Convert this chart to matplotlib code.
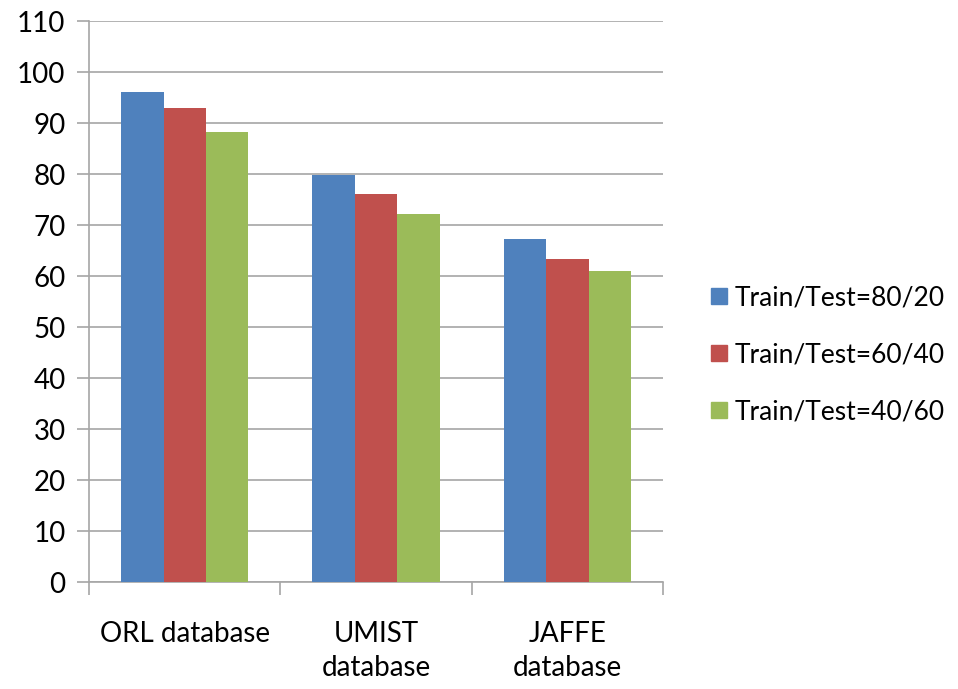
import numpy as np
from matplotlib import pyplot as plt
from matplotlib.lines import Line2D

plt.rcParams['font.family'] = ['Lato', 'DejaVu Sans']

databases = ['ORL database', 'UMIST\ndatabase', 'JAFFE\ndatabase']
split_names = ['Train/Test=80/20', 'Train/Test=60/40', 'Train/Test=40/60']
acc_80_20 = [96.1, 79.9, 67.2]
acc_60_40 = [92.9, 76.1, 63.3]
acc_40_60 = [88.3, 72.2, 61.0]
colors = ['#4F81BD', '#C0504D', '#9BBB59']

fig = plt.figure(figsize=(9.58, 6.89), dpi=100)
ax = fig.add_axes([0.093, 0.155, 0.599, 0.8145])

x = np.arange(len(databases))
w = 0.222
for i, (vals, name) in enumerate(zip([acc_80_20, acc_60_40, acc_40_60], split_names)):
    ax.bar(x + (i - 1) * w, vals, w, color=colors[i], label=name, zorder=3)

ax.set_xlim(-0.5, 2.5)
ax.set_ylim(0, 110)
ax.set_yticks(range(0, 111, 10))
ax.yaxis.grid(True, color='#A6A6A6', linewidth=1.2, zorder=0)
ax.set_xticks(x)
ax.set_xticklabels(databases, va='top', linespacing=1.4)
ax.set_xticks(np.arange(-0.5, 2.6, 1), minor=True)
ax.tick_params(axis='x', which='major', length=0, pad=28, labelsize=20)
ax.tick_params(axis='x', which='minor', length=9, color='#A6A6A6', width=1.2)
ax.tick_params(axis='y', length=9, color='#A6A6A6', width=1.2, labelsize=20, pad=8)

for side in ['top', 'right']:
    ax.spines[side].set_visible(False)
for side in ['left', 'bottom']:
    ax.spines[side].set_color('#A6A6A6')
    ax.spines[side].set_linewidth(1.2)

handles = [Line2D([], [], marker='s', linestyle='none', markersize=11,
                  markerfacecolor=c, markeredgecolor=c) for c in colors]
fig.legend(handles, split_names, loc='center left', bbox_to_anchor=(0.739, 0.485),
           frameon=False, fontsize=19, labelspacing=1.2, handletextpad=0.2,
           handlelength=0.8, borderpad=0.0, borderaxespad=0.0)

fig.savefig('out.png', dpi=100)
